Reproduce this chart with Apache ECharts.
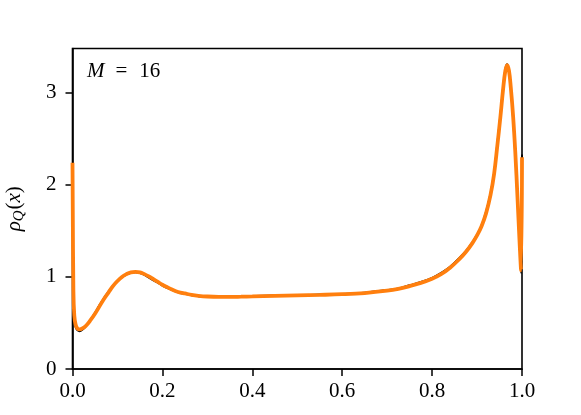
<!DOCTYPE html>
<html>
<head>
<meta charset="utf-8">
<script src="https://cdn.jsdelivr.net/npm/echarts@6/dist/echarts.min.js"></script>
<style>
  html, body { margin: 0; padding: 0; background: #fff; }
  #chart { width: 581px; height: 415px; }
</style>
</head>
<body>
<div id="chart"></div>
<script>
// orange (fitted) curve
var xFit = [0.000, 0.002, 0.004, 0.007, 0.011, 0.016, 0.022, 0.030, 0.040, 0.050,
    0.060, 0.070, 0.080, 0.090, 0.100, 0.110, 0.120, 0.130, 0.140, 0.150,
    0.160, 0.170, 0.180, 0.190, 0.200, 0.210, 0.220, 0.230, 0.240, 0.250,
    0.265, 0.280, 0.300, 0.325, 0.350, 0.375, 0.400, 0.450, 0.500, 0.550,
    0.600, 0.650, 0.700, 0.725, 0.750, 0.775, 0.800, 0.820, 0.840, 0.860,
    0.875, 0.890, 0.900, 0.910, 0.920, 0.930, 0.938, 0.945, 0.952, 0.958,
    0.963, 0.967, 0.971, 0.975, 0.980, 0.985, 0.990, 0.995, 0.998, 1.000];
var yFit = [2.24, 0.85, 0.58, 0.48, 0.44, 0.43, 0.44, 0.47, 0.53, 0.60,
    0.68, 0.76, 0.83, 0.90, 0.955, 1.00, 1.03, 1.05, 1.055, 1.05,
    1.03, 1.005, 0.975, 0.945, 0.915, 0.89, 0.865, 0.845, 0.83, 0.82,
    0.805, 0.795, 0.787, 0.783, 0.783, 0.785, 0.788, 0.795, 0.80, 0.805,
    0.812, 0.825, 0.85, 0.87, 0.90, 0.935, 0.98, 1.03, 1.10, 1.19,
    1.27, 1.37, 1.45, 1.55, 1.69, 1.89, 2.12, 2.42, 2.74, 3.04,
    3.24, 3.30, 3.24, 3.06, 2.76, 2.36, 1.86, 1.34, 1.07, 2.30];

// black (sampled) curve, a little noisier
var xHist = [0.000, 0.002, 0.004, 0.007, 0.011, 0.016, 0.022, 0.030, 0.040, 0.050,
    0.060, 0.070, 0.080, 0.090, 0.100, 0.110, 0.120, 0.130, 0.140, 0.150,
    0.160, 0.170, 0.180, 0.190, 0.200, 0.210, 0.220, 0.230, 0.240, 0.250,
    0.265, 0.280, 0.300, 0.325, 0.350, 0.375, 0.400, 0.450, 0.500, 0.550,
    0.600, 0.650, 0.700, 0.725, 0.750, 0.775, 0.800, 0.820, 0.840, 0.860,
    0.875, 0.890, 0.900, 0.910, 0.920, 0.930, 0.938, 0.945, 0.952, 0.958,
    0.963, 0.967, 0.971, 0.975, 0.980, 0.985, 0.990, 0.995, 0.998, 1.000];
var yHist = [2.20, 0.70, 0.52, 0.45, 0.42, 0.41, 0.425, 0.465, 0.535, 0.61,
    0.695, 0.77, 0.84, 0.905, 0.955, 0.995, 1.025, 1.045, 1.05, 1.04,
    1.02, 0.99, 0.96, 0.935, 0.905, 0.88, 0.86, 0.84, 0.825, 0.815,
    0.80, 0.79, 0.78, 0.78, 0.785, 0.782, 0.792, 0.80, 0.798, 0.81,
    0.815, 0.83, 0.858, 0.875, 0.91, 0.945, 0.99, 1.045, 1.11, 1.205,
    1.28, 1.38, 1.46, 1.56, 1.71, 1.91, 2.14, 2.45, 2.77, 3.07,
    3.26, 3.31, 3.23, 3.04, 2.72, 2.32, 1.82, 1.30, 1.04, 2.33];

var xTicks = [0, 0.2, 0.4, 0.6, 0.8, 1.0];
var yTicks = [0, 1, 2, 3];

function pairs(xs, ys) {
    return xs.map(function (x, i) { return [x, ys[i]]; });
}

var font = '"Liberation Serif", serif';
var chart = echarts.init(document.getElementById('chart'));

chart.setOption({
    animation: false,
    grid: {
        left: 72.5,
        right: 59,
        top: 48.5,
        bottom: 46,
        outerBoundsMode: 'none',
        containLabel: false,
        show: true,
        borderColor: '#000',
        borderWidth: 1.6,
        backgroundColor: 'transparent'
    },
    xAxis: {
        type: 'value',
        min: xTicks[0],
        max: xTicks[xTicks.length - 1],
        interval: 0.2,
        axisLine: { show: true, lineStyle: { color: '#000', width: 1.6 } },
        axisTick: { show: true, inside: false, length: 7, lineStyle: { color: '#000', width: 1.5 } },
        axisLabel: {
            color: '#000',
            fontFamily: font,
            fontSize: 21,
            margin: 12,
            formatter: function (v) { return v.toFixed(1); }
        },
        splitLine: { show: false }
    },
    yAxis: {
        type: 'value',
        min: yTicks[0],
        max: 3.48,
        interval: 1,
        axisLine: { show: true, lineStyle: { color: '#000', width: 1.6 } },
        axisTick: { show: true, inside: false, length: 7, lineStyle: { color: '#000', width: 1.5 } },
        axisLabel: {
            color: '#000',
            fontFamily: font,
            fontSize: 21,
            margin: 16,
            showMaxLabel: false,
            formatter: function (v) { return yTicks.indexOf(v) >= 0 ? String(v) : ''; }
        },
        splitLine: { show: false },
        name: '{i|ρ}{sub|Q}{n|(}{i|x}{n|)}',
        nameLocation: 'middle',
        nameGap: 46,
        nameRotate: 90,
        nameTextStyle: {
            rich: {
                i: { fontFamily: font, fontStyle: 'italic', fontSize: 21, color: '#000' },
                n: { fontFamily: font, fontSize: 21, color: '#000' },
                sub: { fontFamily: font, fontStyle: 'italic', fontSize: 15, color: '#000', verticalAlign: 'bottom', padding: [9, 1, 0, 0] }
            }
        }
    },
    graphic: [{
        type: 'text',
        left: 87,
        top: 61,
        style: {
            text: '{i|M}{eq|=}{n|16}',
            rich: {
                i: { fontFamily: font, fontStyle: 'italic', fontSize: 21, fill: '#000' },
                eq: { fontFamily: font, fontSize: 21, fill: '#000', padding: [0, 12, 0, 11] },
                n: { fontFamily: font, fontSize: 21, fill: '#000' }
            }
        }
    }],
    series: [{
        type: 'line',
        data: pairs(xHist, yHist),
        showSymbol: false,
        smooth: 0.4,
        lineStyle: { color: '#000', width: 1.8 },
        z: 2
    }, {
        type: 'line',
        data: pairs(xFit, yFit),
        showSymbol: false,
        smooth: 0.4,
        lineStyle: { color: '#ff7f0e', width: 3.8 },
        z: 3
    }]
});
</script>
</body>
</html>
